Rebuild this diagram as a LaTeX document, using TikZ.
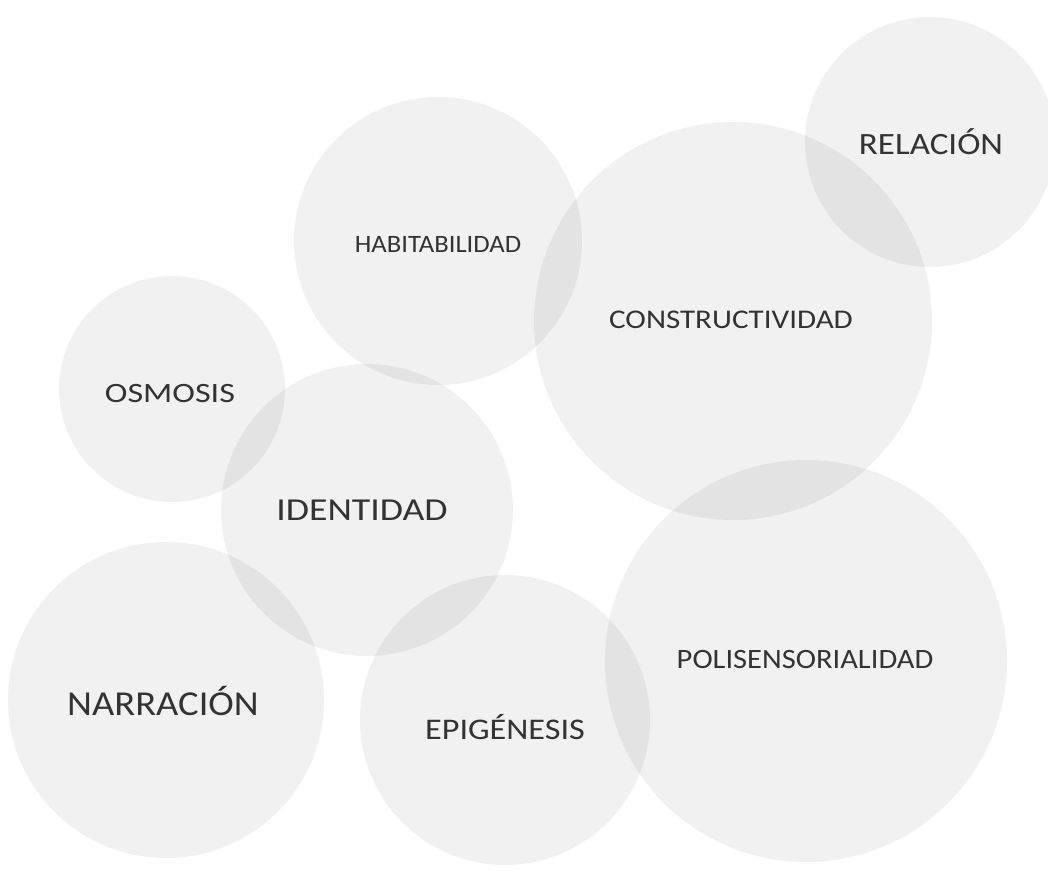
\documentclass[tikz,border=0pt]{standalone}
\usepackage{fontspec}
\setmainfont{Carlito}
\newcommand{\hsq}[2]{\scalebox{#1}[1]{#2}}
\tikzset{
  bubble/.style={circle, draw=none, fill=black, fill opacity=0.055, inner sep=0pt, minimum size=#1},
  lab/.style={text=black!80, inner sep=0pt, font=\fontsize{#1}{#1}\selectfont},
}
\begin{document}
\begin{tikzpicture}[x=1pt,y=-1pt]
\useasboundingbox[fill=white] (0,0) rectangle (1048,870);
% circles
\node[bubble=250] (cRel) at (930,142) {};
\node[bubble=288] (cHab) at (438,241) {};
\node[bubble=398] (cCon) at (733,321) {};
\node[bubble=226] (cOsm) at (172,389) {};
\node[bubble=292] (cIde) at (367,510) {};
\node[bubble=316] (cNar) at (166,700) {};
\node[bubble=290] (cEpi) at (505,720) {};
\node[bubble=402] (cPol) at (806,661) {};
% labels
\node[lab=31] (tRel) at (931,142) {\hsq{1.13}{RELACIÓN}};
\node[lab=25] (tHab) at (438,244) {\hsq{1.065}{HABITABILIDAD}};
\node[lab=27] (tCon) at (731,320) {\hsq{1.15}{CONSTRUCTIVIDAD}};
\node[lab=28] (tOsm) at (170,394) {\hsq{1.22}{OSMOSIS}};
\node[lab=32] (tIde) at (362,510) {\hsq{1.18}{IDENTIDAD}};
\node[lab=35] (tNar) at (163,701) {\hsq{1.10}{NARRACIÓN}};
\node[lab=30] (tEpi) at (505,727) {\hsq{1.14}{EPIGÉNESIS}};
\node[lab=28] (tPol) at (805,659) {\hsq{1.09}{POLISENSORIALIDAD}};
\end{tikzpicture}
\end{document}
